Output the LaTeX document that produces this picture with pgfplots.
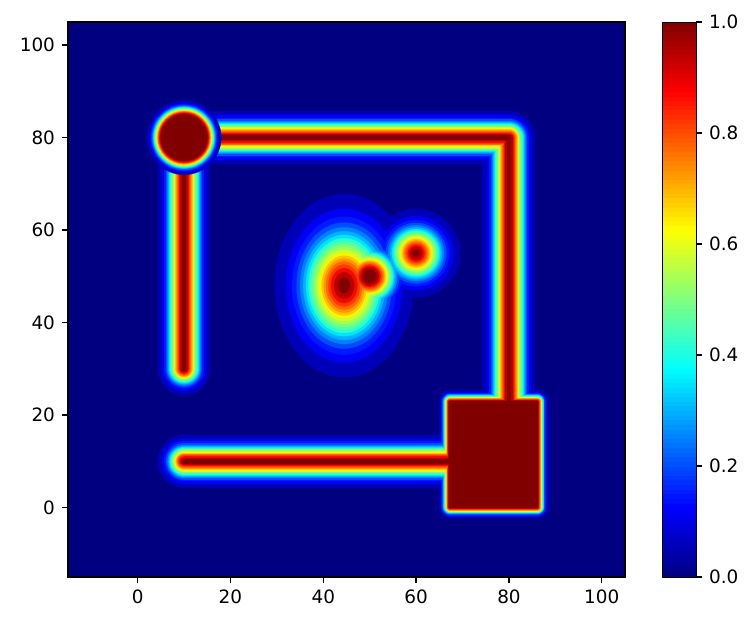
\documentclass[border=0pt]{standalone}
\usepackage{fontspec}
\setmainfont{DejaVu Sans}
\usepackage{pgfplots}
\pgfplotsset{compat=1.18}

\definecolor{c00}{rgb}{0,0,0.5}
\definecolor{c01}{rgb}{0,0,0.727}
\definecolor{c02}{rgb}{0,0,0.955}
\definecolor{c03}{rgb}{0,0.1,1}
\definecolor{c04}{rgb}{0,0.3,1}
\definecolor{c05}{rgb}{0,0.5,1}
\definecolor{c06}{rgb}{0,0.7,1}
\definecolor{c07}{rgb}{0,0.9,0.968}
\definecolor{c08}{rgb}{0.161,1,0.806}
\definecolor{c09}{rgb}{0.323,1,0.645}
\definecolor{c10}{rgb}{0.484,1,0.484}
\definecolor{c11}{rgb}{0.645,1,0.323}
\definecolor{c12}{rgb}{0.806,1,0.161}
\definecolor{c13}{rgb}{0.968,0.963,0}
\definecolor{c14}{rgb}{1,0.778,0}
\definecolor{c15}{rgb}{1,0.593,0}
\definecolor{c16}{rgb}{1,0.407,0}
\definecolor{c17}{rgb}{1,0.222,0}
\definecolor{c18}{rgb}{0.955,0.037,0}
\definecolor{c19}{rgb}{0.727,0,0}
\definecolor{c20}{rgb}{0.5,0,0}

% one contour level: colour, line width, circle radius, rectangle stroke, big blob, small blob, third blob
\newcommand{\lev}[7]{%
\addplot[color=#1, line width=#2pt, line cap=round, line join=round] coordinates {(10,30) (10,80) (80,80) (80,20)};
\addplot[color=#1, line width=#2pt, line cap=round] coordinates {(10,10) (75,10)};
\addplot[color=#1, fill=#1, line width=#4pt, line join=round] coordinates {(67.3,0.1) (86.1,0.1) (86.1,22.9) (67.3,22.9)} --cycle;
\addplot[color=#1, only marks, mark=*, mark size=#3pt, mark options={color=#1, fill=#1, line width=0.1pt}] coordinates {(10,80)};
\addplot[color=#1, only marks, mark=*, mark size=#5pt, mark options={color=#1, fill=#1, line width=0.1pt, yscale=1.323}] coordinates {(44.5,48)};
\addplot[color=#1, only marks, mark=*, mark size=#6pt, mark options={color=#1, fill=#1, line width=0.1pt}] coordinates {(50,50)};
\addplot[color=#1, only marks, mark=*, mark size=#7pt, mark options={color=#1, fill=#1, line width=0.1pt}] coordinates {(60,55)};
}

\begin{document}
\begin{tikzpicture}
\begin{axis}[
  name=main,
  width=278.5pt, height=277.5pt, scale only axis,
  xmin=-15, xmax=105, ymin=-15, ymax=105,
  xtick={0,20,40,60,80,100}, ytick={0,20,40,60,80,100},
  tick pos=left, tick align=outside, major tick length=3pt,
  axis line style={line width=0.7pt}, every tick/.style={black, line width=0.7pt},
  tick label style={font=\fontsize{9.2}{11}\selectfont},
  /pgf/number format/assume math mode=true,
  axis background/.style={fill=c00},
  axis on top,
  colormap/jet,
  point meta min=0, point meta max=1,
  colorbar sampled,
  colorbar style={
    at={(parent axis.north east)}, anchor=north west, xshift=10pt,
    width=17pt,
    samples=121,
    axis background/.style={},
    ytick={0,0.2,0.4,0.6,0.8,1},
    ytick pos=right,
    tick align=outside, major tick length=3pt,
    every tick/.style={black, line width=0.7pt},
    tick label style={font=\fontsize{9.2}{11}\selectfont},
    yticklabel style={/pgf/number format/.cd, fixed, fixed zerofill, precision=1, assume math mode=true},
  },
]
\lev{c01}{26.46}{18.58}{11.34}{34.66}{20.76}{22.05}
\lev{c02}{22.18}{17.36}{9.50}{29.04}{17.70}{18.48}
\lev{c03}{19.87}{16.70}{8.51}{26.02}{16.05}{16.56}
\lev{c04}{18.19}{16.22}{7.80}{23.82}{14.85}{15.16}
\lev{c05}{16.83}{15.83}{7.21}{22.04}{13.88}{14.02}
\lev{c06}{15.66}{15.49}{6.71}{20.51}{13.04}{13.05}
\lev{c07}{14.61}{15.19}{6.26}{19.13}{12.29}{12.17}
\lev{c08}{13.65}{14.92}{5.85}{17.88}{11.61}{11.38}
\lev{c09}{12.75}{14.66}{5.46}{16.69}{10.96}{10.62}
\lev{c10}{11.89}{14.42}{5.09}{15.57}{10.35}{9.91}
\lev{c11}{11.06}{14.18}{4.74}{14.48}{9.76}{9.22}
\lev{c12}{10.25}{13.95}{4.39}{13.42}{9.18}{8.54}
\lev{c13}{9.45}{13.72}{4.05}{12.38}{8.61}{7.88}
\lev{c14}{8.64}{13.49}{3.70}{11.32}{8.03}{7.20}
\lev{c15}{7.81}{13.25}{3.35}{10.23}{7.44}{6.51}
\lev{c16}{6.96}{13.01}{2.98}{9.11}{6.83}{5.80}
\lev{c17}{6.04}{12.75}{2.59}{7.91}{6.18}{5.03}
\lev{c18}{5.04}{12.46}{2.16}{6.60}{5.46}{4.20}
\lev{c19}{3.85}{12.12}{1.65}{5.04}{4.61}{3.21}
\lev{c20}{2.19}{11.65}{0.94}{2.87}{3.43}{1.83}
\end{axis}
\path ([xshift=-34pt,yshift=-24.5pt]main.south west) rectangle ([xshift=63pt,yshift=11pt]main.north east);
\end{tikzpicture}
\end{document}
